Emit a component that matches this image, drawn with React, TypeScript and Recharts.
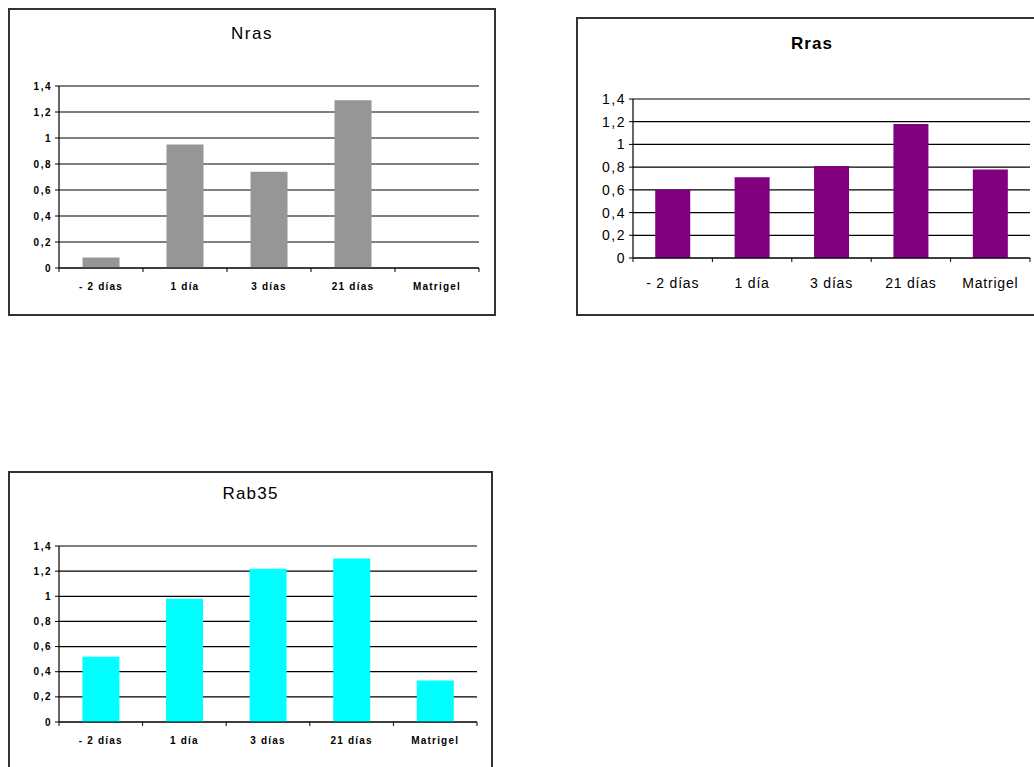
import { Bar, BarChart, CartesianGrid, XAxis, YAxis } from "recharts";

const categoriesSmall = ["- 2 días", "1 día", "3 días", "21 días", "Matrigel"];
const categoriesRras = ["- 2 días", "1 día", "3 días", "21 días", "Matrigel"];
const yTicks = [0, 0.2, 0.4, 0.6, 0.8, 1, 1.2, 1.4];

const nrasValues = [0.08, 0.95, 0.74, 1.29, 0];
const rrasValues = [0.6, 0.71, 0.81, 1.18, 0.78];
const rab35Values = [0.52, 0.98, 1.22, 1.3, 0.33];

const toRows = (cats: string[], values: number[]) =>
  cats.map((c, i) => ({ cat: c, value: values[i] }));

const fmt = (v: number) => String(v).replace(".", ",");

const FONT = "Arial, 'Liberation Sans', sans-serif";

type TickStyle = {
  fontSize: number;
  fontWeight: number | string;
  labelDy: number;
  spacing: number;
};

function makeXTick(style: TickStyle, count: number) {
  return function XTick(props: any) {
    const { x, y, payload } = props;
    const off = payload?.offset ?? 0;
    const last = payload?.index === count - 1;
    return (
      <g>
        <line x1={x - off} x2={x - off} y1={y} y2={y + 4} stroke="#000" />
        {last && <line x1={x + off} x2={x + off} y1={y} y2={y + 4} stroke="#000" />}
        <text
          x={x}
          y={y + style.labelDy}
          textAnchor="middle"
          fill="#000"
          fontSize={style.fontSize}
          fontWeight={style.fontWeight}
          fontFamily={FONT}
          letterSpacing={style.spacing}
        >
          {payload.value}
        </text>
      </g>
    );
  };
}

type PanelProps = {
  title: string;
  titleSize: number;
  titleBold?: boolean;
  titleTop: number;
  titleSpacing: number;
  left: number;
  top: number;
  width: number;
  height: number;
  margin: { top: number; right: number; bottom: number; left: number };
  yWidth: number;
  rows: { cat: string; value: number }[];
  color: string;
  tick: TickStyle;
  yTick: { fontSize: number; fontWeight: number | string; spacing: number };
};

function Panel(p: PanelProps) {
  const XTick = makeXTick(p.tick, p.rows.length);
  return (
    <div
      style={{
        position: "absolute",
        left: p.left,
        top: p.top,
        width: p.width,
        height: p.height,
        border: "2px solid #333",
        background: "#fff",
      }}
    >
      <div
        style={{
          position: "absolute",
          left: 0,
          right: 0,
          top: p.titleTop,
          textAlign: "center",
          fontFamily: FONT,
          fontSize: p.titleSize,
          fontWeight: p.titleBold ? "bold" : "normal",
          letterSpacing: p.titleSpacing,
          lineHeight: 1,
          color: "#000",
        }}
      >
        {p.title}
      </div>
      <BarChart
        width={p.width}
        height={p.height}
        data={p.rows}
        margin={p.margin}
        barCategoryGap="28%"
      >
        <CartesianGrid horizontal vertical={false} stroke="#000" strokeWidth={1.2} />
        <XAxis
          dataKey="cat"
          interval={0}
          height={30}
          tickSize={0}
          tickMargin={0}
          tickLine={false}
          axisLine={{ stroke: "#000", strokeWidth: 1.2 }}
          tick={<XTick />}
        />
        <YAxis
          domain={[0, 1.4]}
          ticks={yTicks}
          width={p.yWidth}
          interval={0}
          tickSize={4}
          tickMargin={3}
          tickFormatter={fmt}
          axisLine={{ stroke: "#000", strokeWidth: 1.2 }}
          tickLine={{ stroke: "#000" }}
          tick={{
            fill: "#000",
            fontSize: p.yTick.fontSize,
            fontWeight: p.yTick.fontWeight,
            fontFamily: FONT,
            letterSpacing: p.yTick.spacing,
          }}
        />
        <Bar dataKey="value" fill={p.color} isAnimationActive={false} />
      </BarChart>
    </div>
  );
}

export default function App() {
  return (
    <div
      style={{
        position: "absolute",
        left: 0,
        top: 0,
        width: 1034,
        height: 767,
        overflow: "hidden",
        background: "#fff",
      }}
    >
      <Panel
        title="Nras"
        titleSize={17}
        titleSpacing={1.5}
        titleTop={15}
        left={8}
        top={8}
        width={484}
        height={304}
        margin={{ top: 76, right: 15, bottom: 16, left: 0 }}
        yWidth={49}
        rows={toRows(categoriesSmall, nrasValues)}
        color="#969696"
        tick={{ fontSize: 10, fontWeight: "bold", labelDy: 22, spacing: 1.2 }}
        yTick={{ fontSize: 10, fontWeight: "bold", spacing: 1.5 }}
      />
      <Panel
        title="Rras"
        titleSize={17}
        titleBold
        titleSpacing={1}
        titleTop={16}
        left={576}
        top={17}
        width={468}
        height={295}
        margin={{ top: 80, right: 16, bottom: 26, left: 0 }}
        yWidth={55}
        rows={toRows(categoriesRras, rrasValues)}
        color="#800080"
        tick={{ fontSize: 14, fontWeight: "normal", labelDy: 30, spacing: 0.8 }}
        yTick={{ fontSize: 14, fontWeight: "normal", spacing: 1.5 }}
      />
      <Panel
        title="Rab35"
        titleSize={17}
        titleSpacing={1.2}
        titleTop={12}
        left={8}
        top={471}
        width={481}
        height={310}
        margin={{ top: 73, right: 14, bottom: 31, left: 0 }}
        yWidth={49}
        rows={toRows(categoriesSmall, rab35Values)}
        color="#00ffff"
        tick={{ fontSize: 10, fontWeight: "bold", labelDy: 22, spacing: 1.2 }}
        yTick={{ fontSize: 10, fontWeight: "bold", spacing: 1.5 }}
      />
    </div>
  );
}
